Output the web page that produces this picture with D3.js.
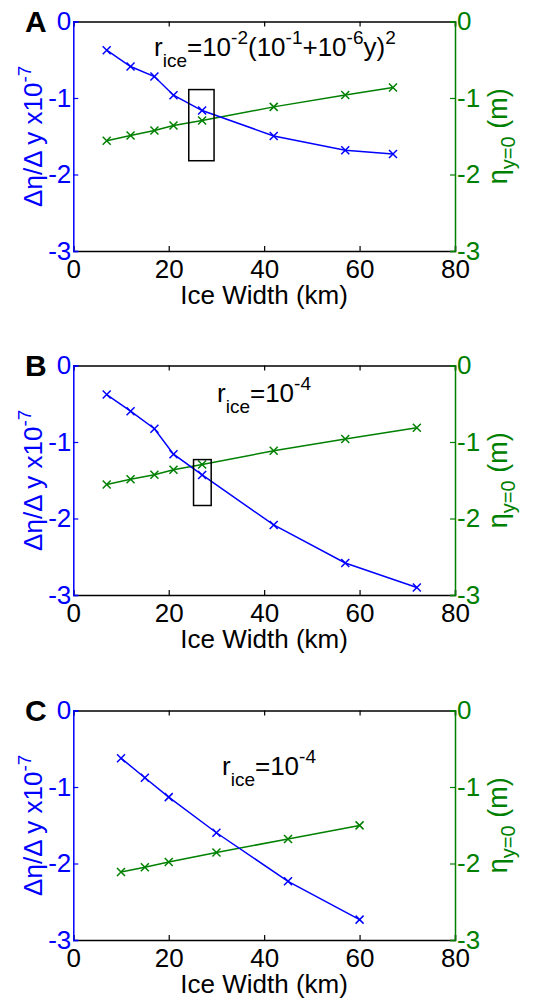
<!DOCTYPE html>
<html>
<head>
<meta charset="utf-8">
<script src="https://cdn.jsdelivr.net/npm/d3@7"></script>
<style>
  html, body { margin: 0; padding: 0; background: #fff; }
  svg { display: block; font-family: "Liberation Sans", Arial, sans-serif; }
</style>
</head>
<body>
<svg id="chart" width="555" height="1000"></svg>
<script>
// ---- data ----
const panelLetters = ["A", "B", "C"];
const xTicks = [0, 20, 40, 60, 80];
const yTicks = [0, -1, -2, -3];
const xLabel = "Ice Width (km)";

const xA = [7, 12, 17, 21, 27, 42, 57, 67];
const blueA = [-0.375, -0.589, -0.72, -0.964, -1.164, -1.496, -1.683, -1.731];
const greenA = [-1.56, -1.49, -1.426, -1.36, -1.295, -1.116, -0.96, -0.863];

const xB = [7, 12, 17, 21, 27, 42, 57, 72];
const blueB = [-0.38, -0.597, -0.826, -1.159, -1.431, -2.084, -2.581, -2.901];
const greenB = [-1.556, -1.487, -1.427, -1.362, -1.293, -1.115, -0.96, -0.813];

const xC = [10, 15, 20, 30, 45, 60];
const blueC = [-0.623, -0.879, -1.132, -1.598, -2.233, -2.734];
const greenC = [-2.111, -2.05, -1.981, -1.855, -1.68, -1.502];

// boxes: [x0, x1, y0, y1]
const boxA = [24.2, 29.5, -0.89, -1.82];
const boxB = [25.2, 28.9, -1.23, -1.83];

// annotation text parts: [text, kind]
const annA = [["r", "n"], ["ice", "sub"], ["=10", "n"], ["-2", "sup"], ["(10", "n"], ["-1", "sup"], ["+10", "n"], ["-6", "sup"], ["y)", "n"], ["2", "sup"]];
const annB = [["r", "n"], ["ice", "sub"], ["=10", "n"], ["-4", "sup"]];
const annC = [["r", "n"], ["ice", "sub"], ["=10", "n"], ["-4", "sup"]];

// ---- layout ----
const BLUE = "#0000ff", GREEN = "#008000", BLACK = "#000";
const left = 73.3, right = 455, plotH = 229.5;
const tops = [21.5, 365.5, 710.5];
const annPos = [[154, 34], [217, 36], [222, 64]];
const tickFont = 26, labFont = 26, annFont = 26, subFont = 19;

const panels = [
  { x: xA, blue: blueA, green: greenA, box: boxA, ann: annA },
  { x: xB, blue: blueB, green: greenB, box: boxB, ann: annB },
  { x: xC, blue: blueC, green: greenC, box: null, ann: annC }
];

const svg = d3.select("#chart");
const fmt = d => String(d).replace("\u2212", "-");

panels.forEach((p, i) => {
  const top = tops[i], bottom = top + plotH;
  const x = d3.scaleLinear().domain([0, 80]).range([left, right]);
  const y = d3.scaleLinear().domain([-3, 0]).range([bottom, top]);
  const g = svg.append("g");

  // data lines
  const line = d3.line().x(d => x(d[0])).y(d => y(d[1]));
  const drawSeries = (vals, color) => {
    const pts = p.x.map((xv, k) => [xv, vals[k]]);
    g.append("path").attr("d", line(pts)).attr("fill", "none")
      .attr("stroke", color).attr("stroke-width", 1.5);
    const s = 4;
    g.selectAll(null).data(pts).enter().append("path")
      .attr("d", d => {
        const cx = x(d[0]), cy = y(d[1]);
        return `M${cx - s},${cy - s}L${cx + s},${cy + s}M${cx - s},${cy + s}L${cx + s},${cy - s}`;
      })
      .attr("stroke", color).attr("stroke-width", 1.5).attr("fill", "none");
  };
  drawSeries(p.green, GREEN);
  drawSeries(p.blue, BLUE);

  if (p.box) {
    const b = p.box;
    g.append("rect")
      .attr("x", x(b[0])).attr("y", y(b[2]))
      .attr("width", x(b[1]) - x(b[0])).attr("height", y(b[3]) - y(b[2]))
      .attr("fill", "none").attr("stroke", BLACK).attr("stroke-width", 1.5);
  }

  // axes
  const bottomAxis = d3.axisBottom(x).tickValues(xTicks).tickSize(-5).tickPadding(9).tickFormat(fmt);
  const gb = g.append("g").attr("transform", `translate(0,${bottom})`).call(bottomAxis);
  gb.select(".domain").attr("stroke", BLACK).attr("stroke-width", 1.5);
  gb.selectAll(".tick line").attr("stroke", BLACK).attr("stroke-width", 1.2);
  gb.selectAll(".tick text").attr("fill", BLACK).attr("font-size", tickFont)
    .attr("font-family", "Liberation Sans, Arial, sans-serif");

  const topAxis = d3.axisTop(x).tickValues(xTicks).tickSize(-5).tickFormat("");
  const gt = g.append("g").attr("transform", `translate(0,${top})`).call(topAxis);
  gt.select(".domain").attr("stroke", BLACK).attr("stroke-width", 1.5);
  gt.selectAll(".tick line").attr("stroke", BLACK).attr("stroke-width", 1.2);

  const leftAxis = d3.axisLeft(y).tickValues(yTicks).tickSize(-5).tickPadding(2).tickFormat(fmt);
  const gl = g.append("g").attr("transform", `translate(${left},0)`).call(leftAxis);
  gl.select(".domain").attr("stroke", BLUE).attr("stroke-width", 1.5);
  gl.selectAll(".tick line").attr("stroke", BLUE).attr("stroke-width", 1.2);
  gl.selectAll(".tick text").attr("fill", BLUE).attr("font-size", tickFont)
    .attr("font-family", "Liberation Sans, Arial, sans-serif");

  const rightAxis = d3.axisRight(y).tickValues(yTicks).tickSize(-5).tickPadding(2).tickFormat(fmt);
  const gr = g.append("g").attr("transform", `translate(${right},0)`).call(rightAxis);
  gr.select(".domain").attr("stroke", GREEN).attr("stroke-width", 1.5);
  gr.selectAll(".tick line").attr("stroke", GREEN).attr("stroke-width", 1.2);
  gr.selectAll(".tick text").attr("fill", GREEN).attr("font-size", tickFont)
    .attr("font-family", "Liberation Sans, Arial, sans-serif");

  // x label
  g.append("text").attr("x", (left + right) / 2).attr("y", bottom + 53)
    .attr("text-anchor", "middle").attr("font-size", labFont).attr("fill", BLACK)
    .text(xLabel);

  // left y label
  const cy = (top + bottom) / 2;
  const ly = g.append("text")
    .attr("transform", `translate(42,${cy}) rotate(-90)`)
    .attr("text-anchor", "middle").attr("font-size", labFont).attr("fill", BLUE);
  ly.append("tspan").text("\u0394\u03b7/\u0394 y x10");
  ly.append("tspan").attr("font-size", subFont).attr("dy", -11).text("-7");

  // right y label
  const ry = g.append("text")
    .attr("transform", `translate(${right + 52},${cy}) rotate(-90)`)
    .attr("text-anchor", "middle").attr("font-size", 27).attr("fill", GREEN);
  ry.append("tspan").text("\u03b7");
  ry.append("tspan").attr("font-size", 20).attr("dy", 8).text("y=0");
  ry.append("tspan").attr("dy", -8).text(" (m)");

  // panel letter
  g.append("text").attr("x", 25).attr("y", top + 10.5)
    .attr("font-size", 30).attr("font-weight", "bold").attr("fill", BLACK)
    .text(panelLetters[i]);

  // annotation
  const a = g.append("text").attr("x", annPos[i][0]).attr("y", top + annPos[i][1])
    .attr("font-size", annFont).attr("fill", BLACK);
  let cur = 0;
  p.ann.forEach(([t, kind]) => {
    const target = kind === "sub" ? 11 : kind === "sup" ? -12 : 0;
    a.append("tspan").attr("dy", target - cur)
      .attr("font-size", kind === "n" ? annFont : subFont).text(t);
    cur = target;
  });
});
</script>
</body>
</html>
